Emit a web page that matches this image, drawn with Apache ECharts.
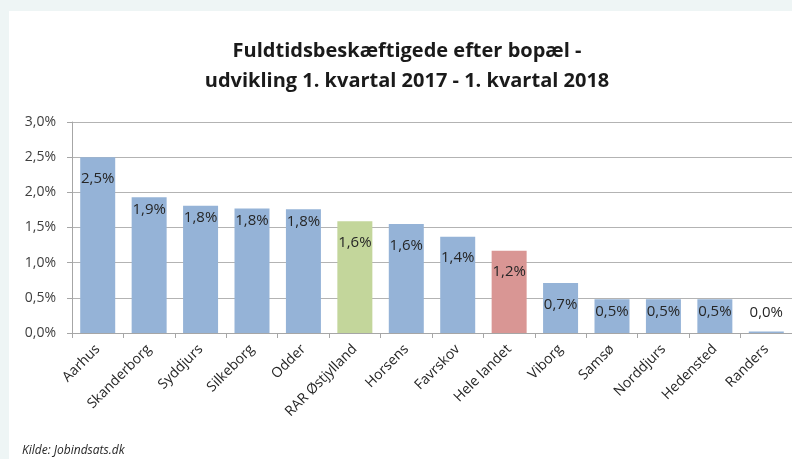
<!DOCTYPE html>
<html>
<head>
<meta charset="utf-8">
<script src="https://cdn.jsdelivr.net/npm/echarts@6/dist/echarts.min.js"></script>
<style>
  html, body { margin: 0; padding: 0; background: #eef5f5; }
  #chart { width: 792px; height: 459px; }
</style>
</head>
<body>
<div id="chart"></div>
<script>
// kommuner / områder
var categories = ['Aarhus', 'Skanderborg', 'Syddjurs', 'Silkeborg', 'Odder', 'RAR Østjylland',
  'Horsens', 'Favrskov', 'Hele landet', 'Viborg', 'Samsø', 'Norddjurs', 'Hedensted', 'Randers']
// udvikling i procent (aflæst)
var values = [2.5, 1.93, 1.81, 1.77, 1.76, 1.59, 1.55, 1.37, 1.17, 0.71, 0.48, 0.48, 0.48, 0.02]
// viste etiketter
var labels = ['2,5%', '1,9%', '1,8%', '1,8%', '1,8%', '1,6%', '1,6%', '1,4%', '1,2%', '0,7%', '0,5%', '0,5%', '0,5%', '0,0%']
var yTicks = [0, 0.5, 1, 1.5, 2, 2.5, 3]

var blue = '#95b3d7'
var colors = {
  'RAR Østjylland': '#c3d69b',
  'Hele landet': '#d99694'
}
// etiketter der sidder tættere på toppen
var closeLabels = ['Skanderborg', 'Syddjurs', 'Silkeborg', 'Odder', 'Samsø', 'Norddjurs', 'Hedensted']

var chart = echarts.init(document.getElementById('chart'))
var font = 'Open Sans, Liberation Sans, sans-serif'

var barData = []
for (var i = 0; i < values.length; i++) {
  var item = {
    value: values[i],
    itemStyle: { color: colors[categories[i]] || blue }
  }
  if (values[i] < 0.1) {
    // bjælken er for lille til en indvendig etiket
    item.label = { position: 'top', distance: 11 }
  } else if (closeLabels.indexOf(categories[i]) >= 0) {
    item.label = { distance: 5 }
  }
  barData.push(item)
}

chart.setOption({
  backgroundColor: '#eef5f5',
  animation: false,
  graphic: [
    {
      type: 'rect',
      left: 9,
      top: 11,
      shape: { width: 800, height: 460 },
      style: { fill: '#ffffff' },
      z: -10
    },
    {
      type: 'text',
      left: 22,
      top: 445,
      style: {
        text: 'Kilde: Jobindsats.dk',
        font: 'italic 12px ' + font,
        fill: '#262626'
      }
    }
  ],
  title: {
    text: 'Fuldtidsbeskæftigede efter bopæl -\nudvikling 1. kvartal 2017 - 1. kvartal 2018',
    left: 402,
    textAlign: 'center',
    top: 31,
    textStyle: {
      fontFamily: font,
      fontSize: 20,
      fontWeight: 'bold',
      color: '#1a1a1a',
      lineHeight: 30
    }
  },
  grid: {
    left: 72,
    top: 122,
    width: 725,
    height: 211
  },
  xAxis: {
    type: 'category',
    data: categories,
    axisLine: { lineStyle: { color: '#a6a6a6' } },
    axisTick: { show: true, length: 5, lineStyle: { color: '#a6a6a6' } },
    axisLabel: {
      rotate: 45,
      interval: 0,
      margin: 14,
      fontFamily: font,
      fontSize: 14,
      color: '#262626'
    }
  },
  yAxis: {
    type: 'value',
    min: yTicks[0],
    max: yTicks[yTicks.length - 1],
    interval: 0.5,
    axisLine: { show: true, lineStyle: { color: '#a6a6a6' } },
    axisTick: { show: true, length: 5, lineStyle: { color: '#a6a6a6' } },
    splitLine: { lineStyle: { color: '#b3b3b3', width: 1 } },
    axisLabel: {
      margin: 16,
      fontFamily: font,
      fontSize: 14,
      color: '#404040',
      formatter: function(v) {
        return v.toFixed(1).replace('.', ',') + '%'
      }
    }
  },
  series: [{
    type: 'bar',
    data: barData,
    barWidth: 35,
    label: {
      show: true,
      position: 'insideTop',
      distance: 14,
      fontFamily: font,
      fontSize: 15,
      color: '#262626',
      formatter: function(p) {
        return labels[p.dataIndex]
      }
    }
  }]
})
</script>
</body>
</html>
